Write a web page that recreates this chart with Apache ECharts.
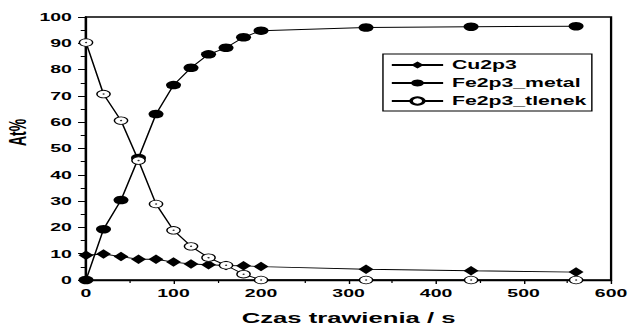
<!DOCTYPE html>
<html><head><meta charset="utf-8">
<script src="https://cdn.jsdelivr.net/npm/echarts@6/dist/echarts.min.js"></script>
<style>
html,body{margin:0;padding:0;background:#fff;overflow:hidden;width:630px;height:327px}
#c{width:356px;height:327px;transform:scaleX(1.7697);transform-origin:0 0}
</style>
</head><body><div id="c"></div>
<script>
var times = [0,20,40,60,80,100,120,140,160,180,200,320,440,560];
var cu2p3 = [9.4,9.9,8.9,7.9,7.9,6.8,6.1,5.8,5.5,5.4,5.1,4.1,3.5,3.0];
var fe2p3Metal = [0,19.3,30.4,46.4,63.1,74.1,80.7,85.8,88.3,92.3,94.8,96.0,96.3,96.5];
var fe2p3Tlenek = [90.3,70.7,60.6,45.4,28.9,18.9,12.8,8.5,5.6,2.2,0,0,0,0];
var xTicks = [0,100,200,300,400,500,600];
var yTicks = [0,10,20,30,40,50,60,70,80,90,100];
var seriesNames = ['Cu2p3','Fe2p3_metal','Fe2p3_tlenek'];

function pairs(v){return times.map(function(t,i){return [t,v[i]];});}
var FONT = 'Liberation Sans';
var chart = echarts.init(document.getElementById('c'), null, {renderer:'svg'});
chart.setOption({
  animation:false,
  backgroundColor:'#fff',
  grid:{left:48.6,right:10.7,top:17,bottom:47,outerBoundsMode:'none',containLabel:false,
    show:true,borderColor:'#000',borderWidth:1.3,backgroundColor:'transparent'},
  xAxis:{type:'value',min:xTicks[0],max:xTicks[xTicks.length-1],interval:100,
    name:'Czas trawienia / s',nameLocation:'middle',nameGap:30,nameMoveOverlap:false,
    nameTextStyle:{fontFamily:FONT,fontWeight:'bold',fontSize:14.5,color:'#000'},
    axisLine:{lineStyle:{color:'#000',width:1.3}},
    axisTick:{inside:false,length:4,lineStyle:{color:'#000',width:0.8}},
    minorTick:{show:true,splitNumber:2,length:3,lineStyle:{color:'#000',width:0.7}},
    splitLine:{show:false},
    axisLabel:{fontFamily:FONT,fontWeight:'bold',fontSize:11,color:'#000',margin:8}},
  yAxis:{type:'value',min:yTicks[0],max:yTicks[yTicks.length-1],interval:10,
    name:'At%',nameLocation:'middle',nameGap:32,nameRotate:90,nameMoveOverlap:false,
    nameTextStyle:{fontFamily:FONT,fontWeight:900,fontSize:14,color:'#000',padding:[0,0,0,32]},
    axisLine:{lineStyle:{color:'#000',width:1.3}},
    axisTick:{inside:false,length:4.5,lineStyle:{color:'#000',width:1}},
    minorTick:{show:true,splitNumber:2,length:3,lineStyle:{color:'#000',width:1}},
    splitLine:{show:false},
    axisLabel:{fontFamily:FONT,fontWeight:'bold',fontSize:11,color:'#000',margin:8}},
  legend:{left:216.4,top:54,orient:'vertical',itemWidth:29,itemHeight:9,itemGap:4,
    borderColor:'#000',borderWidth:0.8,padding:[4,3,3,4],backgroundColor:'#fff',
    textStyle:{fontFamily:FONT,fontWeight:'bold',fontSize:12,lineHeight:14,color:'#000'},
    data:seriesNames},
  series:[
    {name:seriesNames[0],type:'line',data:pairs(cu2p3),symbol:'diamond',symbolSize:[8.5,9.5],
      itemStyle:{color:'#000'},lineStyle:{color:'#000',width:0.9},z:3},
    {name:seriesNames[1],type:'line',data:pairs(fe2p3Metal),symbol:'circle',symbolSize:8.5,
      itemStyle:{color:'#000'},lineStyle:{color:'#000',width:0.9},z:2},
    {name:seriesNames[2],type:'line',data:pairs(fe2p3Tlenek),symbol:'circle',symbolSize:7.5,
      itemStyle:{color:'#fff',borderColor:'#000',borderWidth:0.8},lineStyle:{color:'#000',width:0.9},z:4},
    {name:'dots',type:'scatter',data:pairs(fe2p3Tlenek),symbol:'circle',symbolSize:1.3,
      itemStyle:{color:'#000'},z:5,silent:true}
  ]
});
</script></body></html>
